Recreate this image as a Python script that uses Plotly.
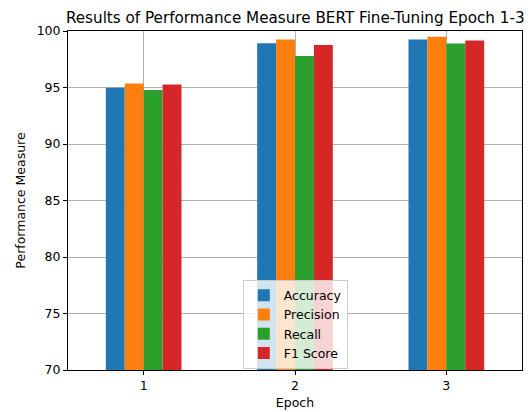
import plotly.graph_objects as go

epochs = ["1", "2", "3"]
accuracy = [94.97, 98.91, 99.25]
precision = [95.35, 99.25, 99.50]
recall = [94.78, 97.78, 98.90]
f1_score = [95.27, 98.76, 99.17]

series = [
    ("Accuracy", accuracy, "#1f77b4"),
    ("Precision", precision, "#ff7f0e"),
    ("Recall", recall, "#2ca02c"),
    ("F1 Score", f1_score, "#d62728"),
]

fig = go.Figure()
for name, vals, color in series:
    fig.add_trace(go.Bar(x=epochs, y=vals, name=name, marker=dict(color=color, line=dict(width=0))))

fig.update_layout(
    width=531, height=412,
    margin=dict(l=68, r=9, t=31, b=42, autoexpand=False),
    paper_bgcolor="white", plot_bgcolor="white",
    font=dict(family="DejaVu Sans", size=12.5, color="black"),
    title=dict(text="Results of Performance Measure BERT Fine-Tuning Epoch 1-3",
               x=0.556, xanchor="center", y=0.956, yanchor="middle",
               font=dict(size=15.2, color="black")),
    barmode="group", bargap=0.5, bargroupgap=0,
    legend=dict(x=0.385, y=0.004, xanchor="left", yanchor="bottom",
                bgcolor="rgba(255,255,255,0.8)", bordercolor="#cccccc", borderwidth=1,
                font=dict(size=12.5), tracegroupgap=0),
    showlegend=True,
)
fig.update_xaxes(
    title=dict(text="Epoch", font=dict(size=12.5), standoff=6),
    showgrid=True, gridcolor="#b0b0b0", gridwidth=1,
    showline=True, linecolor="black", linewidth=1, mirror=True,
    ticks="outside", ticklen=4, tickcolor="black",
    range=[-0.5, 2.5], automargin=False,
)
fig.update_yaxes(
    title=dict(text="Performance Measure", font=dict(size=12.5), standoff=8),
    range=[70, 100], dtick=5,
    showgrid=True, gridcolor="#b0b0b0", gridwidth=1,
    showline=True, linecolor="black", linewidth=1, mirror=True,
    ticks="outside", ticklen=4, tickcolor="black",
    zeroline=False, automargin=False,
)
fig.write_html("out.html", config={"displayModeBar": False},
               post_script="document.body.style.margin='0';document.body.style.overflow='hidden';")
